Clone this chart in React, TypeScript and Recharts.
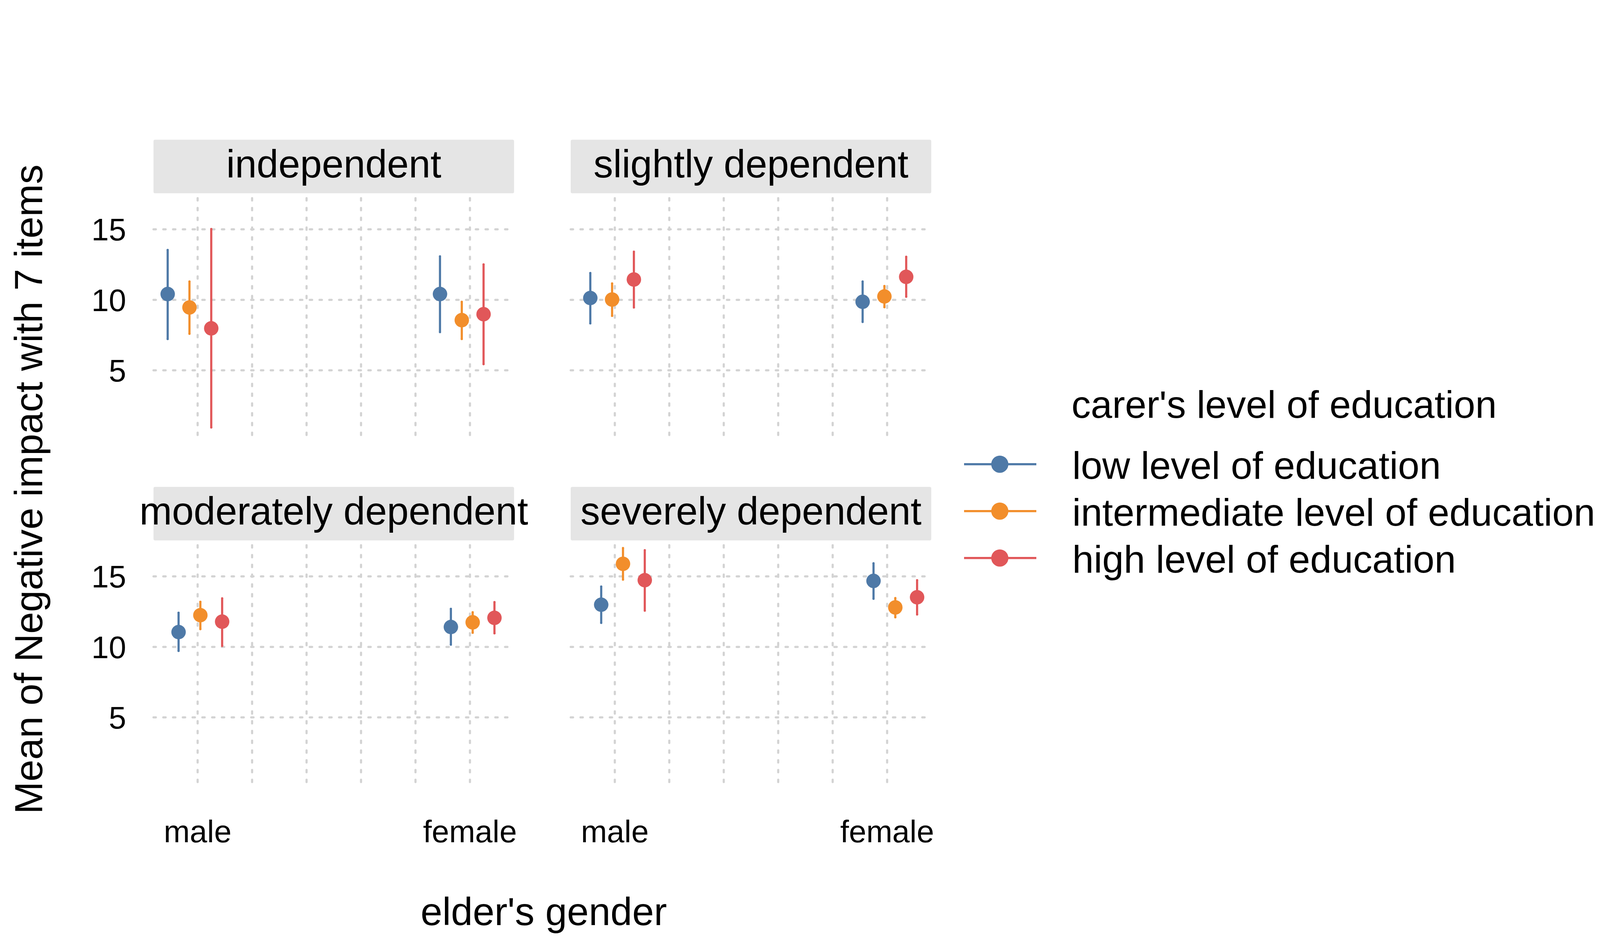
import React from 'react';
import { ScatterChart, Scatter, XAxis, YAxis, CartesianGrid, ErrorBar } from 'recharts';

// ---------- data ----------
const panels = ['independent', 'slightly dependent', 'moderately dependent', 'severely dependent'];
const genders = ['male', 'female'];
const levels = ['low level of education', 'intermediate level of education', 'high level of education'];
const yTicks = [5, 10, 15];
const xTicks = [1, 1.2, 1.4, 1.6, 1.8, 2];

// each row = one panel, [male, female]
const lowMean = [[10.41, 10.41], [10.13, 9.86], [11.05, 11.41], [12.99, 14.68]];
const lowLower = [[7.22, 7.71], [8.33, 8.43], [9.71, 10.16], [11.7, 13.41]];
const lowUpper = [[13.54, 13.08], [11.9, 11.3], [12.42, 12.7], [14.28, 15.93]];

const midMean = [[9.46, 8.56], [10.02, 10.24], [12.25, 11.74], [15.89, 12.8]];
const midLower = [[7.59, 7.22], [8.86, 9.48], [11.26, 11.0], [14.77, 12.1]];
const midUpper = [[11.3, 9.86], [11.16, 10.98], [13.2, 12.46], [17.01, 13.46]];

const highMean = [[7.98, 8.98], [11.44, 11.63], [11.79, 12.06], [14.73, 13.52]];
const highLower = [[0.95, 5.44], [9.46, 10.22], [10.07, 10.96], [12.57, 12.3]];
const highUpper = [[15.02, 12.51], [13.41, 13.05], [13.44, 13.18], [16.86, 14.73]];

const means = [lowMean, midMean, highMean];
const lowers = [lowLower, midLower, highLower];
const uppers = [lowUpper, midUpper, highUpper];

// ---------- style / layout ----------
const COLORS = ['#4E79A7', '#F28E2B', '#E15759'];
const FONT = '"Liberation Sans", Arial, Helvetica, sans-serif';
const GRID = '#D3D3D3';
const STRIP = '#E5E5E5';

const PLOT_W = 923;
const PLOT_H = 608;
const COL_LEFT = [393, 1461];
const ROW_TOP = [507, 1395];
const STRIP_TOP = [357.4, 1245.7];
const STRIP_H = 137;
const Y_AXIS_W = 300;
const X_AXIS_H = 220;
const MT = 20;
const MR = 60;

const LEGEND_X = 2745;
const LEGEND_FONT = 98.7;

const X_DOMAIN = [0.838, 2.162];
const Y_DOMAIN = [0.36, 17.21];
const panelShift = [-0.03, -0.01, 0.01, 0.03];
const levelShift = [-0.08, 0, 0.08];

function buildSeries(p: number, l: number) {
  return genders.map((g, gi) => {
    const m = means[l][p][gi];
    return {
      gender: g,
      x: gi + 1 + panelShift[p] + levelShift[l],
      y: m,
      err: [m - lowers[l][p][gi], uppers[l][p][gi] - m],
    };
  });
}

const xFmt = (v: number) => (v === 1 ? genders[0] : v === 2 ? genders[1] : '');
const NoTick = () => <g />;

const gridLine = (pr: any) => (
  <line
    key={pr.key}
    x1={pr.x1}
    y1={pr.y1}
    x2={pr.x2}
    y2={pr.y2}
    stroke={GRID}
    strokeWidth={5.5}
    strokeDasharray="6 19"
    strokeLinecap="round"
    fill="none"
  />
);

function Panel({ p }: { p: number }) {
  const col = p % 2;
  const row = Math.floor(p / 2);
  const left = COL_LEFT[col] - Y_AXIS_W;
  const top = ROW_TOP[row] - MT;
  const W = Y_AXIS_W + PLOT_W + MR;
  const H = MT + PLOT_H + X_AXIS_H;
  const showY = col === 0;
  const showX = row === 1;
  return (
    <div style={{ position: 'absolute', left, top, width: W, height: H }}>
      <ScatterChart width={W} height={H} margin={{ top: MT, right: MR, left: 0, bottom: 0 }}>
        <CartesianGrid syncWithTicks horizontal={gridLine} vertical={gridLine} />
        <XAxis
          type="number"
          dataKey="x"
          domain={X_DOMAIN}
          allowDataOverflow
          ticks={xTicks}
          interval={0}
          tickFormatter={xFmt}
          axisLine={false}
          tickLine={false}
          tickSize={0}
          tickMargin={95}
          height={X_AXIS_H}
          tick={showX ? { fill: '#000', fontSize: 80, fontFamily: FONT } : NoTick}
        />
        <YAxis
          type="number"
          dataKey="y"
          domain={Y_DOMAIN}
          allowDataOverflow
          ticks={yTicks}
          interval={0}
          axisLine={false}
          tickLine={false}
          tickSize={0}
          tickMargin={70}
          width={Y_AXIS_W}
          tick={showY ? { fill: '#000', fontSize: 80, fontFamily: FONT } : NoTick}
        />
        {levels.map((lv, l) => (
          <Scatter
            key={lv}
            name={lv}
            data={buildSeries(p, l)}
            fill={COLORS[l]}
            isAnimationActive={false}
            shape={(props: any) => <circle cx={props.cx} cy={props.cy} r={18.5} fill={COLORS[l]} />}
          >
            <ErrorBar
              dataKey="err"
              direction="y"
              width={0}
              stroke={COLORS[l]}
              strokeWidth={5.5}
              strokeLinecap="round"
              isAnimationActive={false}
            />
          </Scatter>
        ))}
      </ScatterChart>
    </div>
  );
}

function Overlay() {
  return (
    <svg
      width={4200}
      height={2400}
      style={{ position: 'absolute', left: 0, top: 0, pointerEvents: 'none' }}
      fontFamily={FONT}
    >
      {panels.map((name, p) => {
        const col = p % 2;
        const row = Math.floor(p / 2);
        const x = COL_LEFT[col];
        const y = STRIP_TOP[row];
        return (
          <g key={name}>
            <rect x={x} y={y} width={PLOT_W} height={STRIP_H} fill={STRIP} rx={4} />
            <text x={x + PLOT_W / 2} y={y + 96.5} textAnchor="middle" fontSize={100} fill="#000">
              {name}
            </text>
          </g>
        );
      })}
      <text
        x={108}
        y={1252}
        transform="rotate(-90, 108, 1252)"
        textAnchor="middle"
        fontSize={100}
        fill="#000"
      >
        Mean of Negative impact with 7 items
      </text>
      <text x={1392} y={2366.5} textAnchor="middle" fontSize={100} fill="#000">
        elder's gender
      </text>
      <text x={LEGEND_X - 2} y={1068.6} fontSize={LEGEND_FONT} fill="#000">
        carer's level of education
      </text>
      {levels.map((lv, l) => {
        const cy = 1187.8 + l * 120;
        return (
          <g key={lv}>
            <line
              x1={LEGEND_X - 277}
              x2={LEGEND_X - 92}
              y1={cy}
              y2={cy}
              stroke={COLORS[l]}
              strokeWidth={5.6}
            />
            <circle cx={LEGEND_X - 185.5} cy={cy} r={22} fill={COLORS[l]} />
            <text x={LEGEND_X} y={cy + 37.3} fontSize={LEGEND_FONT} fill="#000">
              {lv}
            </text>
          </g>
        );
      })}
    </svg>
  );
}

export default function App() {
  return (
    <div
      style={{
        position: 'absolute',
        left: 0,
        top: 0,
        width: 4200,
        height: 2400,
        background: '#fff',
        fontFamily: FONT,
      }}
    >
      <Overlay />
      {panels.map((name, p) => (
        <Panel key={name} p={p} />
      ))}
    </div>
  );
}
